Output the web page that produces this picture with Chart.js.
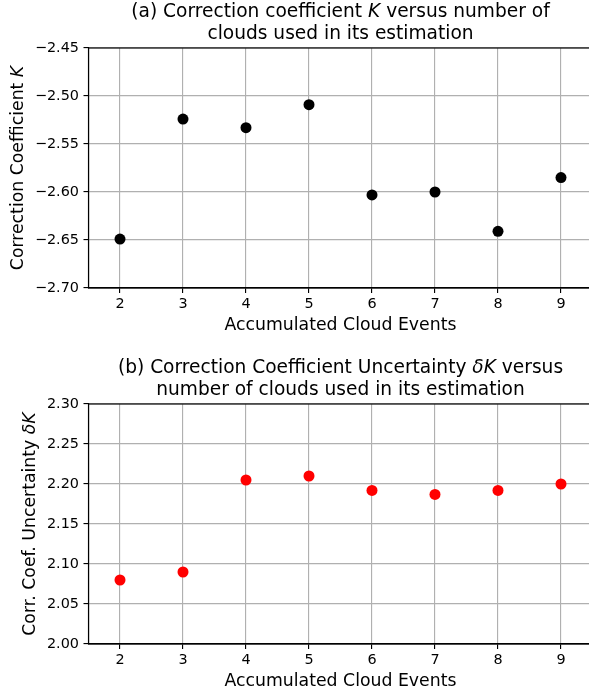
<!DOCTYPE html>
<html>
<head>
<meta charset="utf-8">
<script src="https://cdn.jsdelivr.net/npm/chart.js@4.4.1/dist/chart.umd.min.js"></script>
<style>
    html, body { margin: 0; padding: 0; background: #fff; overflow: hidden; width: 589px; height: 695px; }
    .panel { position: absolute; left: 0; }
    #panel-a { top: -6px; }
    #panel-b { top: 350px; }
</style>
</head>
<body>
<div class="panel" id="panel-a"><canvas id="chart-k" width="600" height="352"></canvas></div>
<div class="panel" id="panel-b"><canvas id="chart-dk" width="600" height="352"></canvas></div>
<script>

// Data

var cloudEvents = [2, 3, 4, 5, 6, 7, 8, 9];
var coefK = [-2.649, -2.524, -2.533, -2.509, -2.603, -2.600, -2.641, -2.585];
var coefDeltaK = [2.080, 2.090, 2.205, 2.210, 2.192, 2.187, 2.192, 2.200];
var xTicks = [2, 3, 4, 5, 6, 7, 8, 9];
var kTicks = [-2.70, -2.65, -2.60, -2.55, -2.50, -2.45];
var deltaKTicks = [2.00, 2.05, 2.10, 2.15, 2.20, 2.25, 2.30];


// Styles

var FONT = '"DejaVu Sans", "Liberation Sans", sans-serif';
var TITLE_SIZE = 18.6;
var LABEL_SIZE = 17.3;
var TICK_SIZE = 14.4;
var LINE_W = 1.14;

Chart.defaults.font.family = FONT;
Chart.defaults.color = '#000';


// Plugin: titles and y labels with italic parts, plus the full frame

var richText = {
    id: 'richText',
    afterDraw: function (chart, args, opts) {
        var ctx = chart.ctx;
        var area = chart.chartArea;

        function setFont(italic, size) {
            ctx.font = (italic ? 'italic ' : '') + size + 'px ' + FONT;
        }

        function drawLine(segs, cx, cy, size) {
            var w = 0;
            segs.forEach(function (s) {
                setFont(s[1], size);
                w += ctx.measureText(s[0]).width;
            });
            var x = cx - w / 2;
            segs.forEach(function (s) {
                setFont(s[1], size);
                ctx.fillText(s[0], x, cy);
                x += ctx.measureText(s[0]).width;
            });
        }

        ctx.save();

        // frame
        ctx.strokeStyle = '#000';
        ctx.lineWidth = LINE_W;
        ctx.strokeRect(area.left, area.top, area.right - area.left, area.bottom - area.top);

        ctx.fillStyle = '#000';
        ctx.textAlign = 'left';
        ctx.textBaseline = 'middle';

        // title lines
        var cx = (area.left + area.right) / 2;
        opts.lines.forEach(function (segs, i) {
            drawLine(segs, cx, area.top + opts.lineOffsets[i], TITLE_SIZE);
        });

        // rotated y label
        ctx.translate(opts.yLabelX, (area.top + area.bottom) / 2);
        ctx.rotate(-Math.PI / 2);
        drawLine(opts.yLabel, 0, 0, LABEL_SIZE);

        ctx.restore();
    }
};


// Methods

function fmt(v) {
    return v.toFixed(2).replace('-', '\u2212');
}

function makeChart(id, values, color, yMin, yMax, yTicks, titleLines, yLabel, yLabelX) {
    var points = cloudEvents.map(function (x, i) {
        return { x: x, y: values[i] };
    });

    return new Chart(document.getElementById(id), {
        type: 'scatter',
        data: {
            datasets: [{
                data: points,
                backgroundColor: color,
                borderColor: color,
                borderWidth: 0,
                pointRadius: 5.5,
                pointHoverRadius: 5.5
            }]
        },
        options: {
            responsive: false,
            animation: false,
            layout: {
                padding: { top: 54, right: 7.5, bottom: 0, left: 0 }
            },
            plugins: {
                legend: { display: false },
                tooltip: { enabled: false },
                richText: {
                    lines: titleLines,
                    lineOffsets: [-35.5, -14.3],
                    yLabel: yLabel,
                    yLabelX: yLabelX
                }
            },
            scales: {
                x: {
                    type: 'linear',
                    min: 1.5,
                    max: 9.5,
                    afterBuildTicks: function (scale) {
                        scale.ticks = xTicks.map(function (v) { return { value: v }; });
                    },
                    afterFit: function (scale) {
                        scale.height = 58;
                    },
                    ticks: {
                        font: { size: TICK_SIZE },
                        color: '#000',
                        padding: 3,
                        maxRotation: 0,
                        autoSkip: false,
                        callback: function (v) { return String(v); }
                    },
                    grid: {
                        color: '#b0b0b0',
                        lineWidth: LINE_W,
                        drawTicks: true,
                        tickLength: 5,
                        tickColor: '#000',
                        tickWidth: LINE_W
                    },
                    border: { display: true, color: '#000', width: LINE_W },
                    title: {
                        display: true,
                        text: 'Accumulated Cloud Events',
                        color: '#000',
                        font: { size: LABEL_SIZE, lineHeight: 1.2 },
                        padding: { top: 0, bottom: 10 }
                    }
                },
                y: {
                    type: 'linear',
                    min: yMin,
                    max: yMax,
                    afterBuildTicks: function (scale) {
                        scale.ticks = yTicks.map(function (v) { return { value: v }; });
                    },
                    afterFit: function (scale) {
                        scale.width = 88.5;
                    },
                    ticks: {
                        font: { size: TICK_SIZE },
                        color: '#000',
                        padding: 4.5,
                        autoSkip: false,
                        callback: function (v) { return fmt(v); }
                    },
                    grid: {
                        color: '#b0b0b0',
                        lineWidth: LINE_W,
                        drawTicks: true,
                        tickLength: 5,
                        tickColor: '#000',
                        tickWidth: LINE_W
                    },
                    border: { display: true, color: '#000', width: LINE_W }
                }
            }
        },
        plugins: [richText]
    });
}


// Events

makeChart('chart-k', coefK, '#000000', -2.70, -2.45, kTicks,
    [
        [['(a) Correction coefficient ', false], ['K', true], [' versus number of', false]],
        [['clouds used in its estimation', false]]
    ],
    [['Correction Coefficient ', false], ['K', true]],
    19);

makeChart('chart-dk', coefDeltaK, '#ff0000', 2.00, 2.30, deltaKTicks,
    [
        [['(b) Correction Coefficient Uncertainty ', false], ['\u03b4K', true], [' versus', false]],
        [['number of clouds used in its estimation', false]]
    ],
    [['Corr. Coef. Uncertainty ', false], ['\u03b4K', true]],
    31);

</script>
</body>
</html>
